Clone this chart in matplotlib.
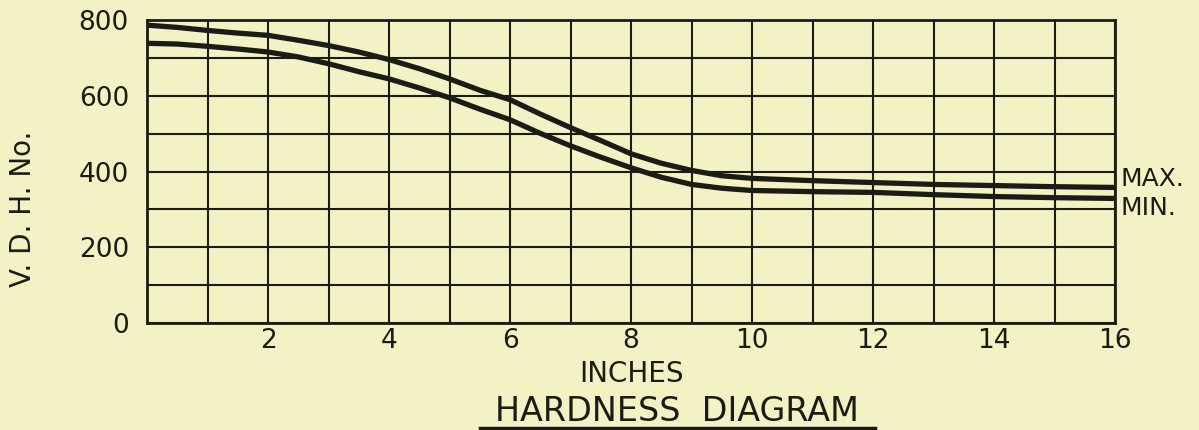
import matplotlib.pyplot as plt
from matplotlib.lines import Line2D

# values
inches = [0, 0.5, 1, 1.5, 2, 2.5, 3, 3.5, 4, 4.5, 5, 5.5, 6, 6.5, 7, 7.5, 8, 8.5, 9, 9.5,
          10, 11, 12, 13, 14, 15, 16]
vdh_max = [787, 781, 773, 766, 760, 747, 733, 716, 696, 672, 645, 615, 590, 552, 516, 482,
           447, 422, 403, 389, 382, 376, 371, 366, 363, 360, 358]
vdh_min = [739, 737, 731, 724, 716, 703, 685, 664, 645, 621, 595, 565, 537, 501, 468, 438,
           410, 385, 366, 356, 350, 347, 345, 339, 334, 331, 329]

xticks = [2, 4, 6, 8, 10, 12, 14, 16]
yticks = [0, 200, 400, 600, 800]

paper = '#f3f2c4'
ink = '#1b1c16'

fig = plt.figure(figsize=(11.99, 4.30), dpi=100, facecolor=paper)
ax = fig.add_axes([0.1226, 0.249, 0.8074, 0.704], facecolor=paper)

ax.plot(inches, vdh_max, color=ink, lw=3.8, solid_joinstyle='round', solid_capstyle='butt')
ax.plot(inches, vdh_min, color=ink, lw=3.8, solid_joinstyle='round', solid_capstyle='butt')

ax.set_xlim(0, 16)
ax.set_ylim(0, 800)
ax.set_xticks(range(0, 17))
ax.set_yticks(range(0, 801, 100))
ax.grid(True, color=ink, lw=1.5)
ax.set_axisbelow(True)
ax.tick_params(length=0, labelsize=19, colors=ink)
ax.tick_params(axis='x', pad=4)
ax.tick_params(axis='y', pad=13)
ax.set_xticklabels([str(v) if v in xticks else '' for v in range(0, 17)])
ax.set_yticklabels([str(v) if v in yticks else '' for v in range(0, 801, 100)])
for s in ax.spines.values():
    s.set_color(ink)
    s.set_linewidth(2)

ax.set_xlabel('INCHES', fontsize=20, color=ink, labelpad=4)
fig.text(0.019, 0.515, 'V. D. H. No.', rotation=90, fontsize=20, color=ink,
         ha='center', va='center')

ax.text(1.006, vdh_max[-1] + 22, 'MAX.', transform=ax.get_yaxis_transform(),
        fontsize=18, color=ink, va='center', ha='left')
ax.text(1.006, vdh_min[-1] - 24, 'MIN.', transform=ax.get_yaxis_transform(),
        fontsize=18, color=ink, va='center', ha='left')

fig.text(0.5645, 0.043, 'HARDNESS  DIAGRAM', fontsize=24, color=ink,
         ha='center', va='center')
fig.add_artist(Line2D([0.40, 0.73], [0.005, 0.005], color=ink, lw=2.5))

plt.savefig('out.png', dpi=100, facecolor=paper)
